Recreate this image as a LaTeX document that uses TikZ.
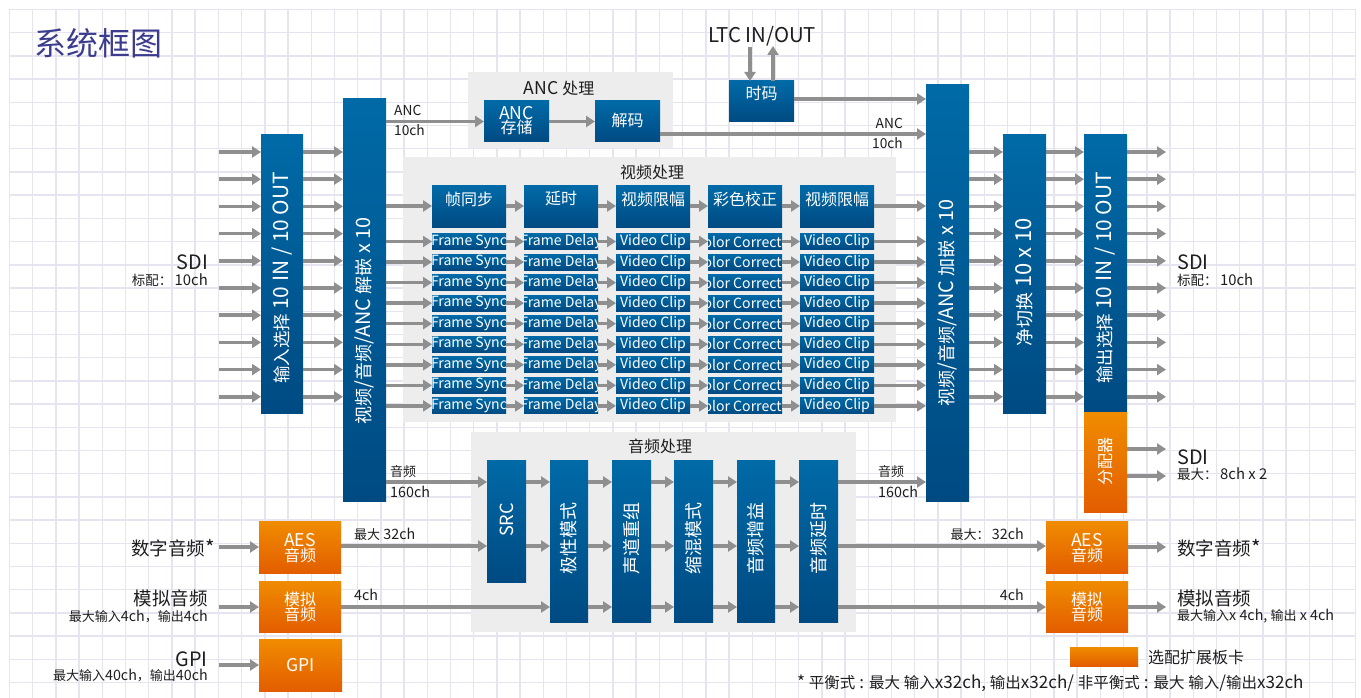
\documentclass[tikz,border=0pt]{standalone}
\usepackage{fontspec}
\setmainfont{Noto Sans CJK SC}[Scale=1.1]
\newfontfamily\cjkf{Noto Sans CJK SC}
\XeTeXinterchartokenstate=1
\newXeTeXintercharclass\mycjkclass
\newcount\cjkc
\cjkc="2E80 \loop \XeTeXcharclass\cjkc=\mycjkclass \advance\cjkc by 1 \ifnum\cjkc<"A000 \repeat
\cjkc="FF00 \loop \XeTeXcharclass\cjkc=\mycjkclass \advance\cjkc by 1 \ifnum\cjkc<"FFF0 \repeat
\XeTeXinterchartoks 0 \mycjkclass={\begingroup\cjkf}
\XeTeXinterchartoks 4095 \mycjkclass={\begingroup\cjkf}
\XeTeXinterchartoks \mycjkclass 0={\endgroup}
\XeTeXinterchartoks \mycjkclass 4095={\endgroup}
\usetikzlibrary{arrows.meta}
\definecolor{blueT}{HTML}{006AA7}
\definecolor{blueB}{HTML}{004A82}
\definecolor{orgT}{HTML}{F08C00}
\definecolor{orgB}{HTML}{E35D00}
\definecolor{arrg}{HTML}{8F8F8F}
\definecolor{panelg}{HTML}{EDEDED}
\definecolor{gridc}{HTML}{E6E4EF}
\definecolor{titlec}{HTML}{3C3C8E}
\definecolor{txt}{HTML}{1E1E1E}
\newcommand{\fs}[1]{\fontsize{#1}{#1}\selectfont}
\tikzset{
 blk/.style={inner sep=0, outer sep=0, top color=blueT, bottom color=blueB, draw=none, text=white},
 org/.style={inner sep=0, outer sep=0, top color=orgT, bottom color=orgB, draw=none, text=white},
 panel/.style={fill=panelg, draw=none, inner sep=0, outer sep=0},
 arr/.style={draw=arrg, line width=3.5pt, -{Triangle[length=9pt,width=11pt]}},
 lbl/.style={inner sep=0, text=txt},
 wt/.style={inner sep=0, text=white},
}
\newcommand{\bx}[7]{\node[#1, minimum width={(#5-#3)*1pt}, minimum height={(#6-#4)*1pt}] (#2) at ({(#3+#5)/2},{(#4+#6)/2}) {#7};}
\newcommand{\sbx}[5]{\node[blk, minimum width={(#3-#2)*1pt}, minimum height=16pt,
  path picture={\node[wt, font=\fs{12.8}] at (path picture bounding box.center) {#5};}] (#1) at ({(#2+#3)/2},#4) {};}
\begin{document}
\begin{tikzpicture}[x=1pt,y=-1pt]
\useasboundingbox (0,0) rectangle (1361,698);
\fill[white] (0,0) rectangle (1361,698);
% grid
\foreach \i in {0,...,58} \draw[gridc, line width=1.4pt] ({9.5+\i*23.21},9.5) -- ({9.5+\i*23.21},698);
\foreach \j in {0,...,29} \draw[gridc, line width=1.4pt] (9.5,{9.5+\j*23.21}) -- (1355.6,{9.5+\j*23.21});
% title
\node[inner sep=0, anchor=west, text=titlec, font=\fs{32}] (title) at (34,43) {系统框图};
% panels
\bx{panel}{ancp}{468}{72}{673}{148}{}
\bx{panel}{vidp}{403}{157}{896}{422}{}
\bx{panel}{audp}{471}{432}{856}{632}{}
\node[lbl, font=\fs{16}] (ancpT) at (559,88) {ANC 处理};
\node[lbl, font=\fs{16}] (vidpT) at (652,172) {视频处理};
\node[lbl, font=\fs{16}] (audpT) at (660,446) {音频处理};
% big vertical blocks
\bx{blk}{inp}{261}{135}{303}{413}{}
\bx{blk}{dmx}{343}{99}{386}{501}{}
\bx{blk}{rmx}{926}{85}{969}{501}{}
\bx{blk}{csw}{1003}{135}{1046}{413}{}
\bx{blk}{osel}{1084}{135}{1127}{413}{}
\bx{org}{dist}{1084}{412}{1127}{512}{}
\node[wt, rotate=90] (inpT) at (282,278) {\fs{17.5}输入选择 \fs{19}10 IN / 10 OUT};
\node[wt, rotate=90, font=\fs{18}] (dmxT) at (364.5,321) {视频/音频/ANC 解嵌 x 10};
\node[wt, rotate=90, font=\fs{18}] (rmxT) at (947.5,303) {视频/音频/ANC 加嵌 x 10};
\node[wt, rotate=90] (cswT) at (1024.5,282) {\fs{18}净切换 \fs{20}10 x 10};
\node[wt, rotate=90] (oselT) at (1105.5,278) {\fs{17.5}输出选择 \fs{19}10 IN / 10 OUT};
\node[wt, rotate=90, font=\fs{16}] (distT) at (1105.5,461) {分配器};
% ANC area
\bx{blk}{as}{484}{101}{549}{142}{}
\node[wt, font=\fs{16}, align=center] (asT) at (516.5,121) {ANC\\[-2pt]存储};
\bx{blk}{dec}{595}{101}{660}{142}{}
\node[wt, font=\fs{16}] (decT) at (627.5,120) {解码};
\bx{blk}{tc}{729}{81}{794}{122}{}
\node[wt, font=\fs{16}] (tcT) at (761.5,93) {时码};
\node[lbl, font=\fs{18.5}] (ltc) at (762,36) {LTC IN/OUT};
\coordinate (ltcd) at (750,47);
\coordinate (ltcu) at (773,46);
\draw[arr] (ltcd) -- (ltcd |- tc.north);
\draw[arr] (ltcu |- tc.north) -- (ltcu);
\coordinate (ytc) at (0,99);
\coordinate (yanc) at (0,134);
\draw[arr] (tc.east |- ytc) -- (rmx.west |- ytc);
\draw[arr] (dec.east |- yanc) -- (rmx.west |- yanc);
\draw[arr] (dmx.east |- as.west) -- (as.west);
\draw[arr] (as.east) -- (dec.west);
\node[lbl, anchor=west, font=\fs{12.5}] (ancL1) at (394,110) {ANC};
\node[lbl, anchor=west, font=\fs{12.5}] (ancL2) at (394,130) {10ch};
\node[lbl, anchor=east, font=\fs{12.5}] (ancR1) at (903,123) {ANC};
\node[lbl, anchor=east, font=\fs{12.5}] (ancR2) at (903,143) {10ch};
% SDI in / out arrows
\foreach \i in {0,...,9}{
  \pgfmathsetmacro\yy{152+27.2*\i}
  \coordinate (in\i) at (219,\yy);
  \coordinate (out\i) at (1166,\yy);
  \draw[arr] (in\i) -- (inp.west |- in\i);
  \draw[arr] (inp.east |- in\i) -- (dmx.west |- in\i);
  \draw[arr] (rmx.east |- in\i) -- (csw.west |- in\i);
  \draw[arr] (csw.east |- in\i) -- (osel.west |- in\i);
  \draw[arr] (osel.east |- in\i) -- (out\i);
}
\node[lbl, anchor=east, font=\fs{18}] (sdiL) at (208,262) {SDI};
\node[lbl, anchor=east, font=\fs{13.5}] (sdiL2) at (208,280) {标配：\,10ch};
\node[lbl, anchor=west, font=\fs{18}] (sdiR) at (1177,262) {SDI};
\node[lbl, anchor=west, font=\fs{13.5}] (sdiR2) at (1177,280) {标配：\,10ch};
% distributor outputs
\coordinate (d0) at (1166,449);
\coordinate (d1) at (1166,476);
\draw[arr] (dist.east |- d0) -- (d0);
\draw[arr] (dist.east |- d1) -- (d1);
\node[lbl, anchor=west, font=\fs{18}] (sdiD) at (1177,457) {SDI};
\node[lbl, anchor=west, font=\fs{13.5}] (sdiD2) at (1177,474) {最大：\,8ch x 2};
% video processing top row
\bx{blk}{v1}{432}{186}{506}{227}{}
\bx{blk}{v2}{524}{186}{598}{227}{}
\bx{blk}{v3}{616}{186}{690}{227}{}
\bx{blk}{v4}{708}{186}{782}{227}{}
\bx{blk}{v5}{800}{186}{874}{227}{}
\node[wt, font=\fs{16}] (v1T) at (469,199) {帧同步};
\node[wt, font=\fs{16}] (v2T) at (561,199) {延时};
\node[wt, font=\fs{16}] (v3T) at (653,199) {视频限幅};
\node[wt, font=\fs{16}] (v4T) at (745,199) {彩色校正};
\node[wt, font=\fs{16}] (v5T) at (837,199) {视频限幅};
\coordinate (yv) at (0,206);
\draw[arr] (dmx.east |- yv) -- (v1.west |- yv);
\draw[arr] (v1.east |- yv) -- (v2.west |- yv);
\draw[arr] (v2.east |- yv) -- (v3.west |- yv);
\draw[arr] (v3.east |- yv) -- (v4.west |- yv);
\draw[arr] (v4.east |- yv) -- (v5.west |- yv);
\draw[arr] (v5.east |- yv) -- (rmx.west |- yv);
% small rows
\foreach \j in {0,...,8}{
  \pgfmathsetmacro\yc{241.5+20.55*\j}
  \sbx{a\j}{432}{506}{\yc}{Frame Sync}
  \sbx{b\j}{524}{598}{\yc}{Frame Delay}
  \sbx{c\j}{616}{690}{\yc}{Video Clip}
  \sbx{e\j}{708}{782}{\yc}{Color Corrector}
  \sbx{f\j}{800}{874}{\yc}{Video Clip}
  \draw[arr] (dmx.east |- a\j.west) -- (a\j.west);
  \draw[arr] (a\j.east) -- (b\j.west);
  \draw[arr] (b\j.east) -- (c\j.west);
  \draw[arr] (c\j.east) -- (e\j.west);
  \draw[arr] (e\j.east) -- (f\j.west);
  \draw[arr] (f\j.east) -- (rmx.west |- f\j.east);
}
% audio processing
\bx{blk}{src}{487}{460}{526}{582}{}
\bx{blk}{pol}{550}{460}{588}{622}{}
\bx{blk}{chr}{612}{460}{651}{622}{}
\bx{blk}{mix}{674}{460}{713}{622}{}
\bx{blk}{gain}{737}{460}{775}{622}{}
\bx{blk}{dly}{799}{460}{838}{622}{}
\node[wt, rotate=90, font=\fs{16.5}] (srcT) at (506.5,520) {SRC};
\node[wt, rotate=90, font=\fs{18}] (polT) at (569,538) {极性模式};
\node[wt, rotate=90, font=\fs{18}] (chrT) at (631.5,538) {声道重组};
\node[wt, rotate=90, font=\fs{18}] (mixT) at (693.5,538) {缩混模式};
\node[wt, rotate=90, font=\fs{18}] (gainT) at (756,538) {音频增益};
\node[wt, rotate=90, font=\fs{18}] (dlyT) at (818.5,538) {音频延时};
\coordinate (ya) at (0,482);
\coordinate (yb) at (0,546);
\coordinate (yc) at (0,607);
% orange boxes
\bx{org}{laes}{259}{521}{341}{573}{}
\bx{org}{lana}{259}{581}{341}{632}{}
\bx{org}{gpi}{259}{639}{342}{691}{}
\bx{org}{raes}{1046}{521}{1128}{573}{}
\bx{org}{rana}{1046}{581}{1128}{632}{}
\node[wt, font=\fs{16}, align=center] (laesT) at (300,548) {AES\\[-1pt]音频};
\node[wt, font=\fs{16}, align=center] (lanaT) at (300,607) {模拟\\[-1pt]音频};
\node[wt, font=\fs{16}] (gpiT) at (300.5,665) {GPI};
\node[wt, font=\fs{16}, align=center] (raesT) at (1087,548) {AES\\[-1pt]音频};
\node[wt, font=\fs{16}, align=center] (ranaT) at (1087,607) {模拟\\[-1pt]音频};
% audio arrows
\draw[arr] (dmx.east |- ya) -- (src.west |- ya);
\draw[arr] (laes.east |- yb) -- (src.west |- yb);
\draw[arr] (lana.east |- yc) -- (pol.west |- yc);
\draw[arr] (src.east |- ya) -- (pol.west |- ya);
\draw[arr] (src.east |- yb) -- (pol.west |- yb);
\foreach \p/\q in {pol/chr, chr/mix, mix/gain, gain/dly}{
  \draw[arr] (\p.east |- ya) -- (\q.west |- ya);
  \draw[arr] (\p.east |- yb) -- (\q.west |- yb);
  \draw[arr] (\p.east |- yc) -- (\q.west |- yc);
}
\draw[arr] (dly.east |- ya) -- (rmx.west |- ya);
\draw[arr] (dly.east |- yb) -- (raes.west |- yb);
\draw[arr] (dly.east |- yc) -- (rana.west |- yc);
\node[lbl, anchor=west, font=\fs{13}] (aL1) at (390,472) {音频};
\node[lbl, anchor=west, font=\fs{13}] (aL2) at (390,492) {160ch};
\node[lbl, anchor=west, font=\fs{13}] (aR1) at (878,472) {音频};
\node[lbl, anchor=west, font=\fs{13}] (aR2) at (878,492) {160ch};
\node[lbl, anchor=west, font=\fs{13}] (aesL) at (354,534) {最大 32ch};
\node[lbl, anchor=west, font=\fs{13}] (anaL) at (354,595) {4ch};
\node[lbl, anchor=east, font=\fs{13}] (aesR) at (1024,534) {最大：\,32ch};
\node[lbl, anchor=east, font=\fs{13}] (anaR) at (1024,595) {4ch};
% left inputs
\coordinate (i1) at (219,547);
\coordinate (i2) at (219,607);
\coordinate (i3) at (219,665);
\draw[arr] (i1) -- (laes.west |- i1);
\draw[arr] (i2) -- (lana.west |- i2);
\draw[arr] (i3) -- (gpi.west |- i3);
\node[lbl, anchor=east, font=\fs{18.5}] (dl) at (215,548) {数字音频*};
\node[lbl, anchor=east, font=\fs{18.5}] (al) at (208,598) {模拟音频};
\node[lbl, anchor=east, font=\fs{13}] (al2) at (208,617) {最大输入4ch，输出4ch};
\node[lbl, anchor=east, font=\fs{18}] (gl) at (208,659) {GPI};
\node[lbl, anchor=east, font=\fs{13}] (gl2) at (208,676) {最大输入40ch，输出40ch};
% right outputs
\coordinate (r1) at (1166,547);
\coordinate (r2) at (1166,607);
\draw[arr] (raes.east |- r1) -- (r1);
\draw[arr] (rana.east |- r2) -- (r2);
\node[lbl, anchor=west, font=\fs{18.5}] (dr) at (1177,548) {数字音频*};
\node[lbl, anchor=west, font=\fs{18.5}] (ar) at (1177,598) {模拟音频};
\node[lbl, anchor=west, font=\fs{13}] (ar2) at (1177,616) {最大输入x 4ch, 输出 x 4ch};
% legend
\bx{org}{leg}{1070}{647}{1138}{666}{}
\node[lbl, anchor=west, font=\fs{16}] (legT) at (1148,657) {选配扩展板卡};
\node[lbl, anchor=west, font=\fs{15.5}] (foot) at (797,683) {* 平衡式 : 最大 输入x32ch, 输出x32ch/ 非平衡式 : 最大 输入/输出x32ch};
\end{tikzpicture}
\end{document}
